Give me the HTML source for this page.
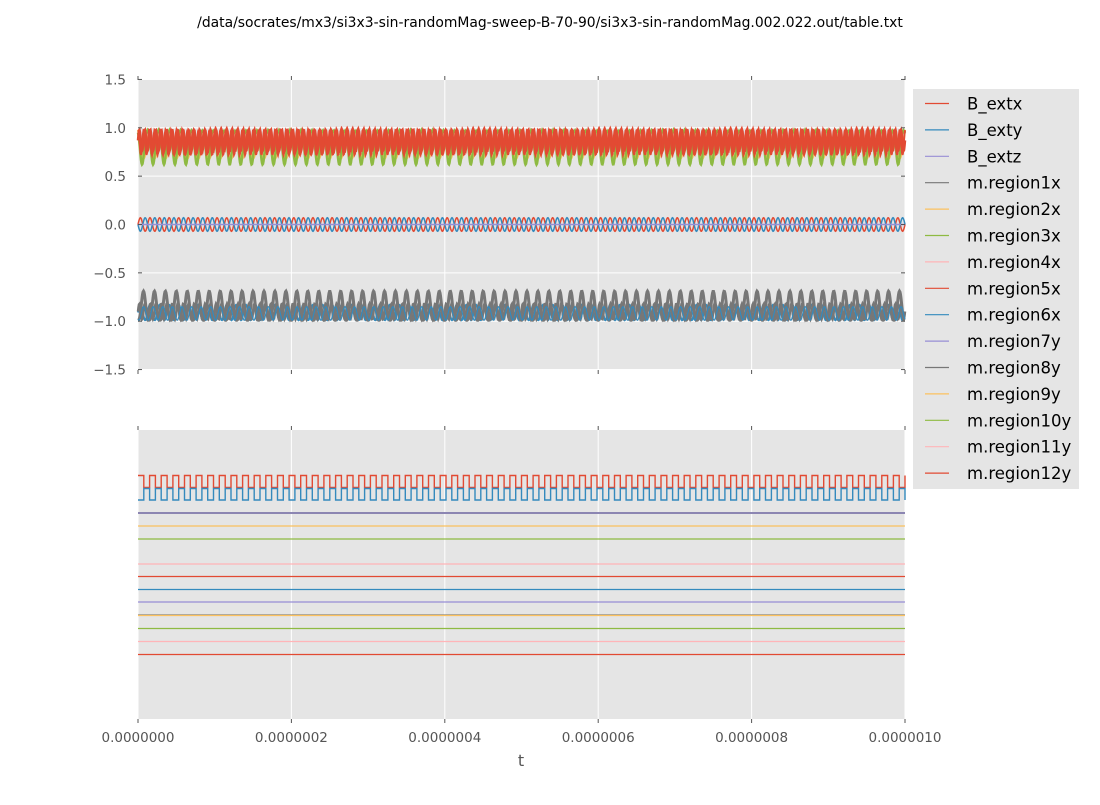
<!DOCTYPE html>
<html><head><meta charset="utf-8"><style>
body{margin:0;background:#fff;width:1100px;height:800px;overflow:hidden}
svg{font-family:"DejaVu Sans","Liberation Sans",sans-serif}
</style></head><body>
<svg id="s" width="1100" height="800" xmlns="http://www.w3.org/2000/svg">
<text x="550" y="27" font-size="13.9" text-anchor="middle">/data/socrates/mx3/si3x3-sin-randomMag-sweep-B-70-90/si3x3-sin-randomMag.002.022.out/table.txt</text>
<rect x="138" y="80" width="767" height="290" fill="#E5E5E5"/>
<rect x="138" y="430" width="767" height="289" fill="#E5E5E5"/>
<g id="grid" stroke="#fff" stroke-width="1"></g>
<g id="data" fill="none" stroke-width="1.2"></g>
<g id="ticks" font-size="13.5" fill="#555"></g>
<text x="521" y="766" font-size="16" text-anchor="middle" fill="#555">t</text>
<rect x="913" y="89" width="166" height="400" fill="#E5E5E5"/>
<g id="leg" font-size="16.5"></g>
</svg>
<script>
const NS="http://www.w3.org/2000/svg";
function el(p,t,a,txt){const e=document.createElementNS(NS,t);for(const k in a)e.setAttribute(k,a[k]);if(txt!==undefined)e.textContent=txt;document.getElementById(p).appendChild(e);return e;}
const C=["#E24A33","#348ABD","#988ED5","#777777","#FBC15E","#8EBA42","#FFB5B8"];
const x0=138,x1=905,W=767;
for(let i=0;i<=5;i++){const x=x0+W*i/5;el("grid","line",{x1:x,x2:x,y1:80,y2:370});el("grid","line",{x1:x,x2:x,y1:430,y2:719});}
const yv=v=>224.5-v*96.7;
for(let v=-1.5;v<=1.5;v+=0.5){const y=yv(v);el("grid","line",{x1:x0,x2:x1,y1:y,y2:y});
el("ticks","line",{x1:x0,x2:x0+4,y1:y,y2:y,stroke:"#555"});el("ticks","line",{x1:x1-4,x2:x1,y1:y,y2:y,stroke:"#555"});
el("ticks","text",{x:126,y:y+5,"text-anchor":"end"},(v<0?"\u2212":"")+Math.abs(v).toFixed(1));}
for(let i=0;i<=5;i++){const x=x0+W*i/5;
[[76,80],[370,374],[426,430],[719,723]].forEach(a=>el("ticks","line",{x1:x,x2:x,y1:a[0],y2:a[1],stroke:"#555"}));
el("ticks","text",{x:x,y:742,"text-anchor":"middle"},(i*0.0000002).toFixed(7));}
function path(f,col,w,op){let d="";for(let x=x0;x<=x1;x+=0.5){d+=(x==x0?"M":"L")+x.toFixed(1)+","+f(x).toFixed(2);}el("data","path",{d:d,stroke:col,"stroke-width":w||1.2,opacity:op||1});}
const P=767/70;
path(x=>yv(0.98-0.3*Math.abs(Math.sin(Math.PI*(x-x0)/P))) ,"#FBC15E",2);
path(x=>yv(0.97-0.35*Math.pow(Math.abs(Math.sin(Math.PI*(x-x0)/P+0.4)),3)),"#8EBA42",2.5);
path(x=>yv(0.98-0.1*Math.abs(Math.sin(Math.PI*(x-x0)/P+0.4))),"#8EBA42",2);
path(x=>yv(0.87+0.11*Math.sin(2*Math.PI*(x-x0)/(P/2))),"#E24A33",2.5);
path(x=>yv(0.85+0.13*Math.sin(2*Math.PI*(x-x0)/(P/2)+1.3)),"#E24A33",2);
const Ps=767/80;
path(x=>yv(0.07*Math.sin(2*Math.PI*(x-x0)/Ps)),"#E24A33",1.5);
path(x=>yv(-0.07*Math.sin(2*Math.PI*(x-x0)/Ps)),"#348ABD",1.5);
path(x=>yv(0),"#988ED5",1.5);
path(x=>yv(-0.91+0.08*Math.sin(2*Math.PI*(x-x0)/Ps)),"#348ABD",2);
path(x=>yv(-0.99+0.3*Math.pow(Math.abs(Math.sin(Math.PI*(x-x0)/P)),3)),"#777777",3);
path(x=>yv(-0.9+0.08*Math.sin(2*Math.PI*(x-x0)/(P/2))),"#777777",2.5);
path(x=>yv(-0.92-0.07*Math.sin(2*Math.PI*(x-x0)/Ps+1)),"#348ABD",1.2);
function sq(yA,yB,per,col){let d="M"+x0+","+yA;let x=x0,hi=true;while(x<x1){const nx=Math.min(x+per/2,x1);d+="L"+nx.toFixed(1)+","+(hi?yA:yB);if(nx<x1){hi=!hi;d+="L"+nx.toFixed(1)+","+(hi?yA:yB);}x=nx;}el("data","path",{d:d,stroke:col,"stroke-width":1.4});}
sq(475.5,487.5,767/66,"#E24A33");
sq(500,488.5,767/66,"#348ABD");
const L=[[513,"#777777",2],[513,"#988ED5",1.2],[526,"#FBC15E"],[539,"#8EBA42"],[564,"#FFB5B8"],[576.5,"#E24A33"],[589.5,"#348ABD"],[602,"#988ED5"],[615,"#777777"],[615.5,"#FBC15E"],[628.5,"#8EBA42"],[641.5,"#FFB5B8"],[654.5,"#E24A33"]];
L.forEach(l=>el("data","line",{x1:x0,x2:x1,y1:l[0],y2:l[0],stroke:l[1],"stroke-width":l[2]||1.3}));
const names=["B_extx","B_exty","B_extz","m.region1x","m.region2x","m.region3x","m.region4x","m.region5x","m.region6x","m.region7y","m.region8y","m.region9y","m.region10y","m.region11y","m.region12y"];
names.forEach((n,i)=>{const y=103.5+i*26.4;el("leg","line",{x1:925,x2:949,y1:y,y2:y,stroke:C[i%7],"stroke-width":1.2});el("leg","text",{x:967,y:y+6},n);});
</script>
</body></html>
